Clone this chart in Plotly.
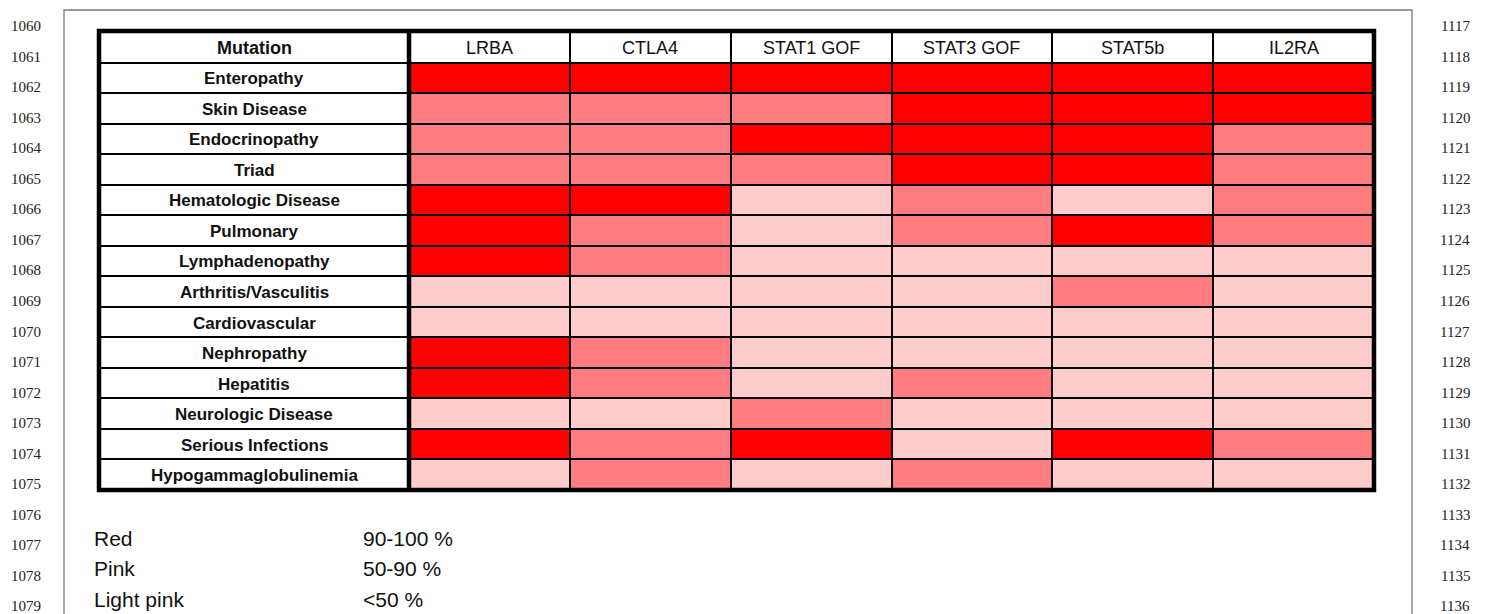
import plotly.graph_objects as go

# ---------------- data ----------------
mutations = ["LRBA", "CTLA4", "STAT1 GOF", "STAT3 GOF", "STAT5b", "IL2RA"]
manifestations = [
    "Enteropathy", "Skin Disease", "Endocrinopathy", "Triad",
    "Hematologic Disease", "Pulmonary", "Lymphadenopathy",
    "Arthritis/Vasculitis", "Cardiovascular", "Nephropathy", "Hepatitis",
    "Neurologic Disease", "Serious Infections", "Hypogammaglobulinemia",
]
# level codes: 2 = Red (90-100 %), 1 = Pink (50-90 %), 0 = Light pink (<50 %)
LRBA = [2, 1, 1, 1, 2, 2, 2, 0, 0, 2, 2, 0, 2, 0]
CTLA4 = [2, 1, 1, 1, 2, 1, 1, 0, 0, 1, 1, 0, 1, 1]
STAT1_GOF = [2, 1, 2, 1, 0, 0, 0, 0, 0, 0, 0, 1, 2, 0]
STAT3_GOF = [2, 2, 2, 2, 1, 1, 0, 0, 0, 0, 1, 0, 0, 1]
STAT5b = [2, 2, 2, 2, 0, 2, 0, 1, 0, 0, 0, 0, 2, 0]
IL2RA = [2, 2, 1, 1, 1, 1, 0, 0, 0, 0, 0, 0, 1, 0]
legend_names = ["Red", "Pink", "Light pink"]
legend_ranges = ["90-100 %", "50-90 %", "<50 %"]
left_line_numbers = list(range(1059, 1080))
right_line_numbers = list(range(1116, 1137))

# ---------------- layout constants ----------------
W, H = 1489, 614
OFF = 8  # page body margin
TABLE_LEFT, TABLE_TOP = 99, 31
LABEL_W = 310
CELL_W = (1374 - 409) / 6
HEADER_H = 31.5
ROW_H = (490 - TABLE_TOP - HEADER_H) / 14
RED, PINK, LIGHT = "#ff0000", "#ff7c80", "#ffcccc"

columns = [LRBA, CTLA4, STAT1_GOF, STAT3_GOF, STAT5b, IL2RA]
nrows = len(manifestations)
ncols = len(mutations)

x_edges = [TABLE_LEFT, TABLE_LEFT + LABEL_W] + [TABLE_LEFT + LABEL_W + CELL_W * (i + 1) for i in range(ncols)]
y_edges = [TABLE_TOP, TABLE_TOP + HEADER_H] + [TABLE_TOP + HEADER_H + ROW_H * (j + 1) for j in range(nrows)]

z = [[-1] * (ncols + 1)]
for j in range(nrows):
    z.append([-1] + [columns[i][j] for i in range(ncols)])

cs = [
    [0.0, "#ffffff"], [0.1667, "#ffffff"],
    [0.1667, LIGHT], [0.5, LIGHT],
    [0.5, PINK], [0.8333, PINK],
    [0.8333, RED], [1.0, RED],
]

fig = go.Figure()
fig.add_trace(go.Heatmap(
    x=x_edges, y=y_edges, z=z, zmin=-1, zmax=2, colorscale=cs,
    showscale=False, xgap=2, ygap=2, hoverinfo="skip",
))

x_right = x_edges[-1]
y_bottom = y_edges[-1]
shapes = [
    dict(type="rect", x0=x_edges[0], x1=x_right, y0=y_edges[0], y1=y_bottom,
         xref="x", yref="y", fillcolor="#000000", line=dict(width=0), layer="below"),
    dict(type="rect", x0=x_edges[0], x1=x_right, y0=y_edges[0], y1=y_bottom,
         xref="x", yref="y", line=dict(color="#000000", width=4.5)),
    dict(type="line", x0=x_edges[1], x1=x_edges[1], y0=y_edges[0], y1=y_bottom,
         xref="x", yref="y", line=dict(color="#000000", width=4.5)),
    dict(type="rect", x0=64, x1=1412, y0=10, y1=H + 20, xref="x", yref="y",
         line=dict(color="#7a7a7a", width=1.3)),
]

ann = []
FONT = "Liberation Sans, Arial, sans-serif"
SERIF = "Liberation Serif, Times New Roman, serif"
label_cx = (x_edges[0] + x_edges[1]) / 2
hy = (y_edges[0] + y_edges[1]) / 2 + 1
ann.append(dict(x=label_cx, y=hy, text="<b>Mutation</b>",
                showarrow=False, font=dict(family=FONT, size=18, color="#111")))
for i, m in enumerate(mutations):
    ann.append(dict(x=(x_edges[i + 1] + x_edges[i + 2]) / 2, y=hy,
                    text=m, showarrow=False, font=dict(family=FONT, size=18, color="#111")))
for j, name in enumerate(manifestations):
    ann.append(dict(x=label_cx, y=(y_edges[j + 1] + y_edges[j + 2]) / 2 + 1, text=f"<b>{name}</b>",
                    showarrow=False, font=dict(family=FONT, size=17, color="#111")))

LEG_Y0, LEG_DY = 538, 30.5
for k, (n, r) in enumerate(zip(legend_names, legend_ranges)):
    ann.append(dict(x=92, y=LEG_Y0 + k * LEG_DY, text=n, xanchor="left", showarrow=False,
                    font=dict(family=FONT, size=21, color="#111")))
    ann.append(dict(x=361, y=LEG_Y0 + k * LEG_DY, text=r, xanchor="left", showarrow=False,
                    font=dict(family=FONT, size=21, color="#111")))

NUM_Y0, NUM_DY = 26 - 30.55, 30.55
for k, n in enumerate(left_line_numbers):
    ann.append(dict(x=26, y=NUM_Y0 + k * NUM_DY, text=str(n), showarrow=False,
                    font=dict(family=SERIF, size=15, color="#222")))
for k, n in enumerate(right_line_numbers):
    ann.append(dict(x=1455, y=NUM_Y0 + k * NUM_DY, text=str(n), showarrow=False,
                    font=dict(family=SERIF, size=15, color="#222")))

fig.update_layout(
    width=W - OFF, height=H - OFF, margin=dict(l=0, r=0, t=0, b=0),
    paper_bgcolor="white", plot_bgcolor="white",
    xaxis=dict(range=[OFF, W], visible=False, fixedrange=True),
    yaxis=dict(range=[H, OFF], visible=False, fixedrange=True),
    shapes=shapes, annotations=ann, showlegend=False,
)
fig.write_html("out.html")
